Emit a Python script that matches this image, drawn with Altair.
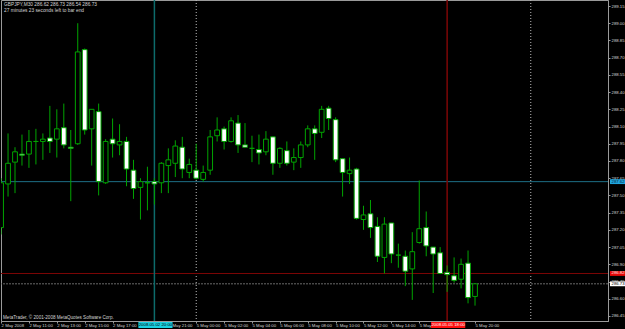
import altair as alt
import pandas as pd

# ---- data (GBPJPY, M30 bars) ----
opens = [287.22, 287.60, 287.79, 287.86, 287.86, 287.97, 287.97, 288.00, 287.99, 288.09,
         287.92, 287.95, 288.77, 288.08, 288.23, 287.61, 287.99, 287.94, 287.97, 287.72,
         287.57, 287.61, 287.62, 287.61, 287.76, 287.78, 287.92, 287.70, 287.72, 287.64,
         287.72, 288.02, 288.08, 287.97, 288.13, 287.94, 287.91, 287.90, 287.88, 288.01,
         287.78, 287.89, 287.79, 287.83, 287.94, 288.08, 288.05, 288.26, 288.16, 287.82,
         287.69, 287.73, 287.29, 287.34, 287.23, 286.96, 287.26, 286.98, 286.97, 286.86,
         287.09, 287.22, 287.05, 287.00, 286.83, 286.80, 286.77, 286.91, 286.62]
highs = [287.65, 288.04, 287.92, 288.03, 288.07, 288.08, 288.04, 288.28, 288.25, 288.30,
         288.07, 289.00, 288.78, 288.25, 288.30, 287.99, 288.17, 288.12, 288.01, 287.81,
         287.65, 287.75, 287.65, 287.79, 287.91, 287.98, 288.01, 287.82, 287.95, 287.76,
         288.07, 288.18, 288.10, 288.18, 288.20, 288.13, 288.02, 288.03, 288.06, 288.01,
         287.92, 287.97, 287.91, 287.97, 288.11, 288.11, 288.28, 288.28, 288.18, 287.82,
         287.83, 287.74, 287.41, 287.46, 287.31, 287.31, 287.26, 287.08, 287.02, 287.18,
         287.63, 287.36, 287.05, 287.05, 286.89, 286.96, 286.95, 287.02, 286.73]
lows = [287.16, 287.49, 287.52, 287.76, 287.74, 287.77, 287.81, 287.87, 287.83, 287.91,
        287.45, 287.94, 288.03, 287.76, 287.50, 287.60, 287.83, 287.85, 287.58, 287.47,
        287.29, 287.37, 287.42, 287.52, 287.52, 287.66, 287.65, 287.65, 287.64, 287.62,
        287.68, 287.97, 287.90, 287.96, 287.87, 287.92, 287.79, 287.77, 287.85, 287.68,
        287.74, 287.76, 287.72, 287.74, 287.92, 287.81, 288.00, 288.07, 287.79, 287.49,
        287.60, 287.29, 287.20, 287.13, 286.92, 286.82, 286.91, 286.87, 286.71, 286.59,
        287.08, 286.97, 286.65, 286.82, 286.66, 286.74, 286.69, 286.56, 286.54]
closes = [287.61, 287.78, 287.88, 287.85, 287.97, 287.97, 287.99, 287.97, 288.08, 287.94,
          287.91, 288.75, 288.07, 288.25, 287.62, 287.97, 287.95, 287.97, 287.73, 287.56,
          287.62, 287.61, 287.60, 287.78, 287.81, 287.93, 287.73, 287.77, 287.65, 287.70,
          288.01, 288.07, 287.97, 288.15, 287.94, 287.92, 287.91, 287.87, 287.99, 287.78,
          287.91, 287.78, 287.83, 287.94, 288.08, 288.04, 288.25, 288.17, 287.81, 287.70,
          287.72, 287.30, 287.33, 287.22, 286.97, 287.25, 286.99, 286.98, 286.84, 287.01,
          287.21, 287.06, 286.99, 286.82, 286.81, 286.76, 286.90, 286.61, 286.73]
bar_index = list(range(len(opens)))

price_ticks = [289.15, 289.00, 288.85, 288.70, 288.55, 288.40, 288.25, 288.10, 287.95, 287.80,
               287.65, 287.50, 287.35, 287.20, 287.05, 286.90, 286.75, 286.60, 286.45]
time_tick_index = [0, 4, 8, 12, 16, 24, 28, 32, 36, 40, 44, 48, 52, 56, 60, 68]
time_tick_labels = ["2 May 2008", "2 May 11:00", "2 May 13:00", "2 May 15:00", "2 May 17:00",
                    "2 May 21:00", "5 May 00:00", "5 May 02:00", "5 May 04:00", "5 May 06:00",
                    "5 May 08:00", "5 May 10:00", "5 May 12:00", "5 May 14:00", "5 May 16:00",
                    "5 May 20:00"]

separator_index = [28, 76]
hline_levels = [287.62, 286.82, 286.73]
hline_labels = ["287.62", "286.82", "286.73"]
hline_colors = ["#1e6f86", "#7c0606", "#6a6a6a"]
hline_box_fill = ["#1fa6e0", "#e80808", "#ffffff"]
hline_box_text = ["#06243a", "#ffe0e0", "#000000"]
vline_index = [22, 64]
vline_labels = ["2008.05.02 20:00", "2008.05.05 18:00"]
vline_colors = ["#0d6b6b", "#7c0606"]
vline_box_fill = ["#19d0e0", "#ff1010"]
vline_box_text = ["#000000", "#ffffff"]

title_line1 = "GBPJPY,M30  286.62 286.73 286.54 286.73"
title_line2 = "27 minutes 23 seconds left to bar end"
copyright_text = "MetaTrader, \u00a9 2001-2008 MetaQuotes Software Corp."

FONT = "Liberation Sans"
GREEN = "#00a400"
AXIS_GRAY = "#9a9a9a"
LABEL = "#d4d4d4"
FS = 4.3

bars = pd.DataFrame({"k": bar_index, "open": opens, "high": highs, "low": lows, "close": closes})
bars["body"] = ["bull" if c > o else ("bear" if c < o else "doji") for o, c in zip(opens, closes)]
bars["k1"] = bars["k"] - 0.34
bars["k2"] = bars["k"] + 0.34

xs = alt.Scale(domain=[-0.01, 87.08], nice=False, zero=False)
ys = alt.Scale(domain=[286.4061, 289.2023], nice=False, zero=False)

label_expr = ("[" + ",".join("'%s'" % s for s in time_tick_labels) + "][indexof(["
              + ",".join(str(v) for v in time_tick_index) + "], datum.value)]")

x_axis = alt.Axis(orient="bottom", values=time_tick_index, labelExpr=label_expr,
                  labelAlign="left", labelBaseline="top", labelPadding=0,
                  labelFontSize=FS, labelFont=FONT, labelColor=LABEL, labelOverlap=False,
                  labelFlush=False, labelBound=False, tickSize=2, tickColor=AXIS_GRAY,
                  domainColor=AXIS_GRAY, grid=False, title=None)
y_axis = alt.Axis(orient="right", values=price_ticks, format=".2f", labelFontSize=FS,
                  labelFont=FONT, labelColor=LABEL, labelPadding=1, labelOverlap=False,
                  labelFlush=False, labelBound=False, tickSize=2, tickColor=AXIS_GRAY,
                  domainColor=AXIS_GRAY, grid=False, title=None)


def X(field):
    return alt.X(field, scale=xs, axis=x_axis)


def Y(field):
    return alt.Y(field, scale=ys, axis=y_axis)


sep_df = pd.DataFrame({"k": separator_index})
separators = alt.Chart(sep_df).mark_rule(color="#bdbdbd", strokeDash=[1, 2], strokeWidth=1).encode(
    x=X("k:Q"))

hl_df = pd.DataFrame({"level": hline_levels, "label": hline_labels, "color": hline_colors,
                      "fill": hline_box_fill, "tc": hline_box_text,
                      "dash": ["a", "b", "c"]})
hlines = alt.Chart(hl_df).mark_rule(strokeWidth=1).encode(
    y=Y("level:Q"),
    color=alt.Color("color:N", scale=None),
    strokeDash=alt.StrokeDash("dash:N", scale=alt.Scale(domain=["a", "b", "c"],
                                                         range=[[1, 0], [1, 0], [2, 1]]), legend=None))

vl_df = pd.DataFrame({"k": vline_index, "label": vline_labels, "color": vline_colors,
                      "fill": vline_box_fill, "tc": vline_box_text})
vlines = alt.Chart(vl_df).mark_rule(strokeWidth=1.5).encode(
    x=X("k:Q"),
    color=alt.Color("color:N", scale=None))

wicks = alt.Chart(bars).mark_rule(color=GREEN, strokeWidth=1, clip=True).encode(
    x=X("k:Q"), y=Y("low:Q"), y2="high:Q")

bodies = alt.Chart(bars).mark_rect(stroke=GREEN, strokeWidth=1, clip=True).encode(
    x=X("k1:Q"), x2="k2:Q",
    y=Y("open:Q"), y2="close:Q",
    fill=alt.Fill("body:N", scale=alt.Scale(domain=["bull", "bear", "doji"],
                                            range=["#000000", "#ffffff", GREEN]), legend=None))

# price boxes on the right axis
pbox = alt.Chart(hl_df).transform_calculate(
    lo="datum.level - 0.021", hi="datum.level + 0.021").mark_rect().encode(
    x=alt.value(609), x2=alt.value(625),
    y=Y("lo:Q"), y2="hi:Q",
    fill=alt.Fill("fill:N", scale=None))
ptext = alt.Chart(hl_df).mark_text(align="left", baseline="middle", fontSize=FS, font=FONT).encode(
    x=alt.value(610.5), y=Y("level:Q"),
    text="label:N", color=alt.Color("tc:N", scale=None))

# time boxes on the bottom axis
tbox = alt.Chart(vl_df).transform_calculate(
    a="datum.k - 2.3", b="datum.k + 2.6").mark_rect().encode(
    x=X("a:Q"), x2="b:Q",
    y=alt.value(322), y2=alt.value(328),
    fill=alt.Fill("fill:N", scale=None))
ttext = alt.Chart(vl_df).transform_calculate(m="datum.k + 0.15").mark_text(
    align="center", baseline="middle", fontSize=FS, font=FONT).encode(
    x=X("m:Q"), y=alt.value(325),
    text="label:N", color=alt.Color("tc:N", scale=None))

one = pd.DataFrame({"d": [0]})
t1 = alt.Chart(one).mark_text(align="left", baseline="top", fontSize=4.8, font=FONT, color=LABEL,
                              x=3, y=1.5).encode(text=alt.value(title_line1))
t2 = alt.Chart(one).mark_text(align="left", baseline="top", fontSize=4.8, font=FONT, color=LABEL,
                              x=3, y=7.5).encode(text=alt.value(title_line2))
t3 = alt.Chart(one).mark_text(align="left", baseline="top", fontSize=4.6, font=FONT, color=LABEL,
                              x=2, y=315).encode(text=alt.value(copyright_text))

chart = alt.layer(separators, hlines, vlines, wicks, bodies, pbox, ptext, tbox, ttext,
                  t1, t2, t3).properties(
    width=607, height=321,
    autosize="none",
    padding={"left": 1, "top": 0, "right": 17, "bottom": 8},
    background="#000000",
).configure_view(fill="#000000", stroke=AXIS_GRAY, strokeWidth=1)

chart.save("out.html", embed_options={"renderer": "svg", "actions": False})
